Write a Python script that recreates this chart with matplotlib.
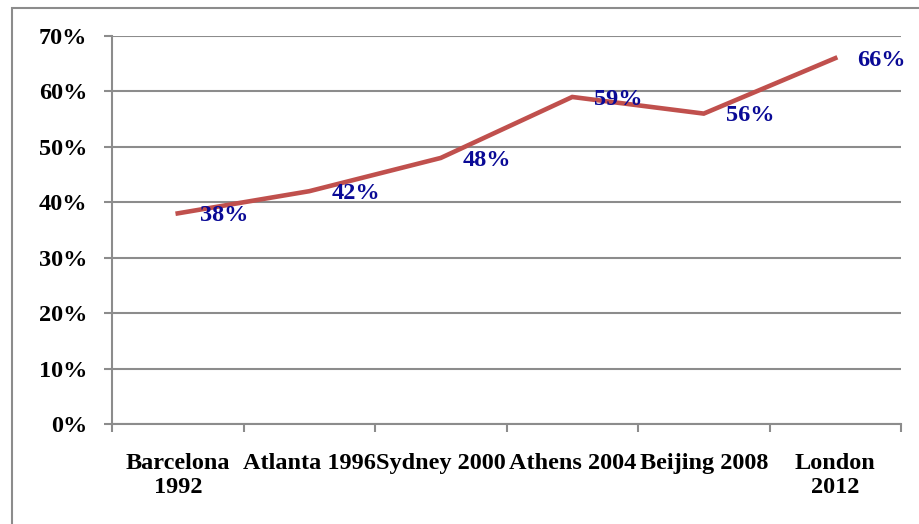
import matplotlib.pyplot as plt
import matplotlib.patches as patches
import numpy as np

cities = ['Barcelona\n1992', 'Atlanta 1996', 'Sydney 2000', 'Athens 2004', 'Beijing 2008', 'London\n2012']
share = [38, 42, 48, 59, 56, 66]
y_ticks = [0, 10, 20, 30, 40, 50, 60, 70]

plt.rcParams['font.family'] = ['Liberation Serif', 'DejaVu Serif']
plt.rcParams['font.weight'] = 'bold'

fig = plt.figure(figsize=(9.19, 5.24), dpi=100)
ax = fig.add_axes([112/919, 1-424/524, (901-112)/919, (424-36)/524])

# outer chart border
fig.patches.append(patches.Rectangle((12/919, -0.1), 1.2, 1-8/524+0.1, transform=fig.transFigure,
                                     fill=False, edgecolor='#8c8c8c', linewidth=1.5))

x = np.arange(len(cities)) + 0.5
ax.plot(x, share, color='#C0504D', linewidth=3.3, solid_joinstyle='miter')

for xi, v in zip(x, share):
    ax.annotate(f'{v}%', (xi, v), xytext=(16, -1.5), textcoords='offset points',
                ha='left', va='center', color='#0a0a96', fontsize=17.5, fontweight='bold')

ax.set_xlim(0, len(cities))
ax.set_ylim(0, 70)
ax.set_yticks(y_ticks)
ax.set_yticklabels([f'{t}%' for t in y_ticks], fontsize=17.5, fontweight='bold')
ax.set_xticks(np.arange(len(cities) + 1))
ax.set_xticklabels([])
ax.set_xticks(x, minor=True)
ax.set_xticklabels(cities, minor=True, fontsize=17.5, fontweight='bold', linespacing=1.15)

ax.tick_params(axis='y', which='major', length=6, width=1.5, color='#8c8c8c', pad=12)
ax.tick_params(axis='x', which='major', length=6, width=1.5, color='#8c8c8c')
ax.tick_params(axis='x', which='minor', length=0, pad=21)

ax.grid(axis='y', color='#8c8c8c', linewidth=1.5)
ax.set_axisbelow(True)
for side in ['top', 'right']:
    ax.spines[side].set_visible(False)
for side in ['left', 'bottom']:
    ax.spines[side].set_color('#8c8c8c')
    ax.spines[side].set_linewidth(1.5)

fig.savefig('out.png', dpi=100)
